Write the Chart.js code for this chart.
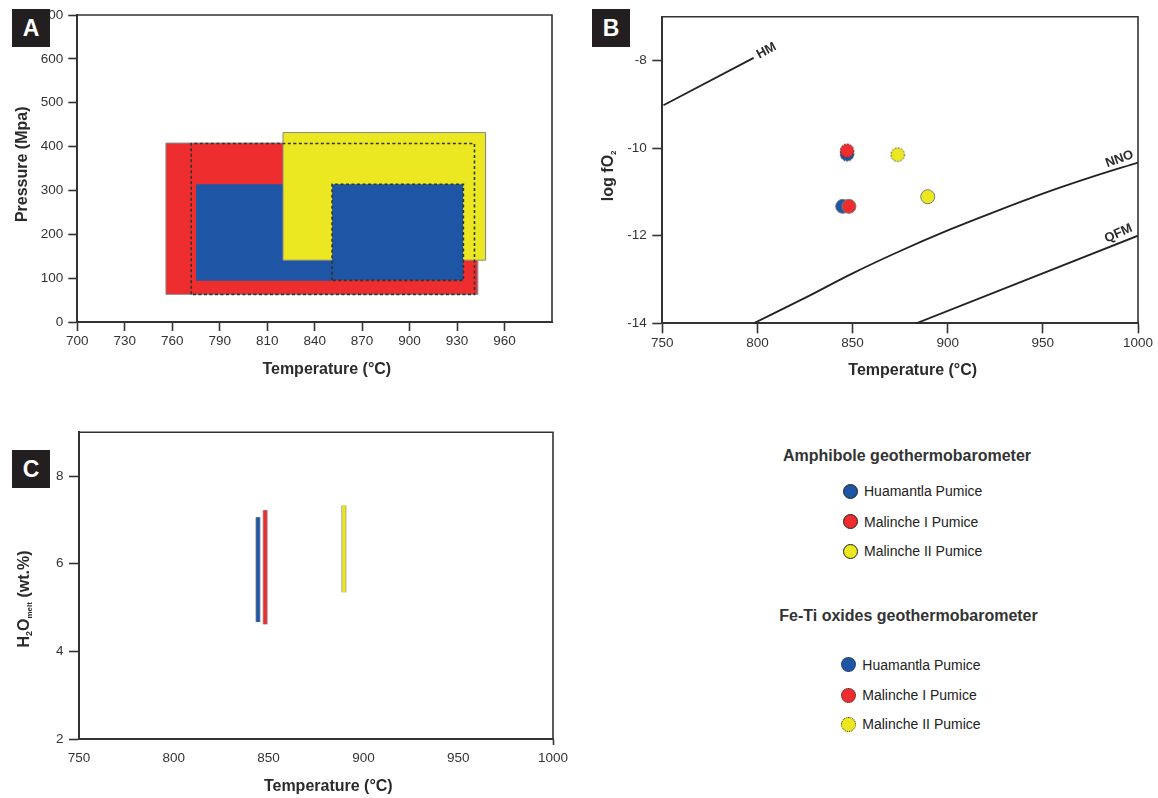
<!DOCTYPE html>
<html><head><meta charset="utf-8">
<script src="https://cdn.jsdelivr.net/npm/chart.js@4.4.1/dist/chart.umd.min.js"></script>
<style>
html,body{margin:0;padding:0;background:#fff;}
body{width:1158px;height:798px;position:relative;overflow:hidden;font-family:"Liberation Sans",Arial,Helvetica,sans-serif;}
canvas{position:absolute;}
.tag{position:absolute;background:#231f20;color:#fff;font-weight:bold;font-size:23px;display:flex;align-items:center;justify-content:center;width:38px;height:38px;}
.lh{position:absolute;font-weight:bold;font-size:16px;line-height:20px;color:#333;white-space:nowrap;}
.li{position:absolute;display:flex;align-items:center;height:20px;font-size:14px;color:#222;white-space:nowrap;}
.dot{display:inline-block;width:15px;height:15px;border-radius:50%;box-sizing:border-box;margin-right:6.5px;}
</style></head><body>
<canvas id="cA" width="580" height="400" style="left:0;top:0"></canvas>
<canvas id="cB" width="578" height="400" style="left:580px;top:0"></canvas>
<canvas id="cC" width="580" height="388" style="left:0;top:410px"></canvas>
<div class="tag" style="left:12px;top:9px">A</div>
<div class="tag" style="left:592px;top:9px">B</div>
<div class="tag" style="left:12px;top:450px">C</div>
<div id="legend"></div>
<script>
// ---------- shared ----------
const sampleNames = ['Huamantla Pumice', 'Malinche I Pumice', 'Malinche II Pumice'];
const sampleColors = ['#1E55A4', '#ED2D2E', '#EBE821'];

// ---------- Panel A : P-T boxes ----------
const tempTickValuesA = [700, 730, 760, 790, 820, 850, 880, 910, 940, 970];
const tempTickLabelsA = ['700', '730', '760', '790', '810', '840', '870', '900', '930', '960'];
const pressureTicksA = [0, 100, 200, 300, 400, 500, 600, 700];
// [Tmin, Tmax, Pmin, Pmax]
const malincheIAmphA = [756, 953, 63, 408];
const huamantlaAmphA = [775, 861, 94, 314];
const malincheIIAmphA = [830, 958, 141, 432];
const huamantlaFeTiA = [861, 944, 95, 314];
const malincheIFeTiA = [772, 951, 63, 407];

// ---------- Panel B : log fO2 ----------
const tempTicksB = [750, 800, 850, 900, 950, 1000];
const logfo2TicksB = [-14, -12, -10, -8];
const hmTemp = [750.6, 798];
const hmLog = [-9.02, -7.94];
const nnoTemp = [798, 825, 850, 875, 900, 925, 950, 975, 1000];
const nnoLog = [-14, -13.42, -12.86, -12.35, -11.88, -11.45, -11.04, -10.67, -10.33];
const qfmTemp = [883.5, 1000];
const qfmLog = [-14, -12.0];
const amphTempB = [844.8, 848.1, 889.5];
const amphLogB = [-11.33, -11.33, -11.11];
const fetiTempB = [847.1, 847.1, 873.7];
const fetiLogB = [-10.14, -10.06, -10.15];
const bufferLabels = ['HM', 'NNO', 'QFM'];
const bufferLabelTemp = [804.7, 990.3, 989.7];
const bufferLabelLog = [-7.78, -10.25, -11.95];
const bufferLabelAngle = [-28, -20, -24];

// ---------- Panel C : H2O melt ----------
const tempTicksC = [750, 800, 850, 900, 950, 1000];
const h2oTicksC = [2, 4, 6, 8];
const h2oTempC = [844.4, 848.2, 889.7];
const h2oMinC = [4.67, 4.62, 5.35];
const h2oMaxC = [7.06, 7.22, 7.33];

// ---------- helpers ----------
const FONT = '"Liberation Sans", Arial, Helvetica, sans-serif';
Chart.defaults.font.family = FONT;
Chart.defaults.color = '#333';
const AX = '#333';
const plainLabel = v => String(v);

const framePlugin = {
  id: 'frame',
  afterDraw(chart) {
    const {ctx, chartArea: a} = chart;
    ctx.save();
    ctx.strokeStyle = AX; ctx.lineWidth = 1.6;
    ctx.beginPath();
    ctx.moveTo(a.left, a.top); ctx.lineTo(a.right, a.top); ctx.lineTo(a.right, a.bottom);
    ctx.stroke();
    ctx.restore();
  }
};

function drawRich(ctx, segs, cx, cy, rot) {
  ctx.save();
  ctx.translate(cx, cy);
  ctx.rotate(rot);
  ctx.fillStyle = '#2b2b2b';
  ctx.textBaseline = 'middle';
  ctx.textAlign = 'left';
  let w = 0;
  segs.forEach(s => { ctx.font = 'bold ' + s.size + 'px ' + FONT; s.w = ctx.measureText(s.t).width; w += s.w; });
  let x = -w / 2;
  segs.forEach(s => { ctx.font = 'bold ' + s.size + 'px ' + FONT; ctx.fillText(s.t, x, s.dy || 0); x += s.w; });
  ctx.restore();
}
function titlesPlugin(items) {
  return { id: 'titles', afterDraw(chart) { items.forEach(it => drawRich(chart.ctx, it.segs, it.x, it.y, it.rot || 0)); } };
}
function setTicks(arr) { return s => { s.ticks = arr.map(v => ({value: v})); }; }
function baseAxis(extra) {
  return Object.assign({
    type: 'linear',
    grid: {drawOnChartArea: false, drawTicks: true, tickLength: 9, tickWidth: 1.6, tickColor: AX, color: AX},
    border: {display: true, color: AX, width: 2},
    ticks: {font: {size: 13.5}, color: '#333', autoSkip: false, maxRotation: 0}
  }, extra);
}
const commonOpts = {
  responsive: false, animation: false, events: [],
  plugins: {legend: {display: false}, tooltip: {enabled: false}, filler: {drawTime: 'beforeDatasetDraw'}},
  elements: {point: {radius: 0}, line: {tension: 0}}
};
function rectFill(r, color, order) {
  return {data: [{x: r[0], y: r[3]}, {x: r[1], y: r[3]}], fill: {value: r[2]}, backgroundColor: color,
          borderColor: 'rgba(0,0,0,0)', borderWidth: 0, pointRadius: 0, order};
}
function rectOutline(r, color, width, dash, order) {
  return {data: [{x: r[0], y: r[2]}, {x: r[0], y: r[3]}, {x: r[1], y: r[3]}, {x: r[1], y: r[2]}, {x: r[0], y: r[2]}],
          fill: false, borderColor: color, borderWidth: width, borderDash: dash, pointRadius: 0, order};
}

// ---------- Chart A ----------
new Chart(document.getElementById('cA'), {
  type: 'line',
  data: {datasets: [
    rectFill(malincheIAmphA, sampleColors[1], 10),
    rectOutline(malincheIAmphA, '#8a8a8a', 1, [], 9),
    rectFill(huamantlaAmphA, sampleColors[0], 8),
    rectFill(malincheIIAmphA, sampleColors[2], 7),
    rectOutline(malincheIIAmphA, '#8a8a8a', 1, [], 6),
    rectFill(huamantlaFeTiA, sampleColors[0], 5),
    rectOutline(huamantlaFeTiA, '#333', 1.6, [3, 2.5], 4),
    rectOutline(malincheIFeTiA, '#333', 1.6, [3, 2.5], 3)
  ]},
  options: Object.assign({}, commonOpts, {
    layout: {padding: {left: 0, top: 15, right: 28, bottom: 0}},
    scales: {
      x: baseAxis({min: 700, max: 1000, position: 'bottom',
        afterFit: s => { s.height = 78; },
        afterBuildTicks: setTicks(tempTickValuesA),
        ticks: {font: {size: 13.5}, color: '#333', autoSkip: false, maxRotation: 0, padding: 2,
                callback: (v, i) => tempTickLabelsA[i]}}),
      y: baseAxis({min: 0, max: 700, position: 'left',
        afterFit: s => { s.width = 77.3; },
        afterBuildTicks: setTicks(pressureTicksA),
        ticks: {font: {size: 13.5}, color: '#333', autoSkip: false, padding: 5, callback: plainLabel}})
    }
  }),
  plugins: [framePlugin, titlesPlugin([
    {segs: [{t: 'Temperature (°C)', size: 16}], x: 326.8, y: 370},
    {segs: [{t: 'Pressure (Mpa)', size: 16}], x: 22.7, y: 164.3, rot: -Math.PI / 2}
  ])]
});

// ---------- Chart B ----------
function dashedDot(color, r) {
  const c = document.createElement('canvas');
  const s = Math.ceil(2 * r + 4);
  c.width = s; c.height = s;
  const g = c.getContext('2d');
  g.beginPath(); g.arc(s / 2, s / 2, r, 0, Math.PI * 2);
  g.fillStyle = color; g.fill();
  g.setLineDash([1.6, 1.6]); g.lineWidth = 1; g.strokeStyle = '#333'; g.stroke();
  return c;
}
const zip = (xs, ys) => xs.map((x, i) => ({x, y: ys[i]}));
const bDatasets = [
  {data: zip(hmTemp, hmLog), borderColor: '#222', borderWidth: 1.8, fill: false, pointRadius: 0, order: 20},
  {data: zip(nnoTemp, nnoLog), borderColor: '#222', borderWidth: 1.8, fill: false, pointRadius: 0, cubicInterpolationMode: 'monotone', order: 20},
  {data: zip(qfmTemp, qfmLog), borderColor: '#222', borderWidth: 1.8, fill: false, pointRadius: 0, order: 20}
];
const pointOrder = [6, 4, 2];
for (let i = 0; i < 3; i++) {
  bDatasets.push({data: [{x: amphTempB[i], y: amphLogB[i]}], showLine: false, pointRadius: 7,
    pointBackgroundColor: sampleColors[i], pointBorderColor: '#7a7a7a', pointBorderWidth: 1, order: pointOrder[i]});
  bDatasets.push({data: [{x: fetiTempB[i], y: fetiLogB[i]}], showLine: false, pointRadius: 7,
    pointStyle: dashedDot(sampleColors[i], 6.8), order: pointOrder[i] + 1 - (i === 1 ? 2 : 0)});
}
const bufferLabelPlugin = {
  id: 'bufferLabels',
  afterDatasetsDraw(chart) {
    const {ctx, scales} = chart;
    ctx.save();
    ctx.fillStyle = '#2b2b2b';
    ctx.font = 'bold 13px ' + FONT;
    ctx.textAlign = 'center'; ctx.textBaseline = 'middle';
    bufferLabels.forEach((t, i) => {
      ctx.save();
      ctx.translate(scales.x.getPixelForValue(bufferLabelTemp[i]), scales.y.getPixelForValue(bufferLabelLog[i]));
      ctx.rotate(bufferLabelAngle[i] * Math.PI / 180);
      ctx.fillText(t, 0, 0);
      ctx.restore();
    });
    ctx.restore();
  }
};
new Chart(document.getElementById('cB'), {
  type: 'line',
  data: {datasets: bDatasets},
  options: Object.assign({}, commonOpts, {
    layout: {padding: {left: 0, top: 16.7, right: 20, bottom: 0}},
    scales: {
      x: baseAxis({min: 750, max: 1000, position: 'bottom',
        afterFit: s => { s.height = 76.7; },
        afterBuildTicks: setTicks(tempTicksB),
        grid: {drawOnChartArea: false, tickLength: 10, tickWidth: 1.6, tickColor: AX, color: AX},
        ticks: {font: {size: 13.5}, color: '#333', autoSkip: false, maxRotation: 0, padding: 1.5, callback: plainLabel}}),
      y: baseAxis({min: -14, max: -7, position: 'left',
        afterFit: s => { s.width = 82.3; },
        afterBuildTicks: setTicks(logfo2TicksB),
        grid: {drawOnChartArea: false, tickLength: 10, tickWidth: 1.6, tickColor: AX, color: AX},
        ticks: {font: {size: 13.5}, color: '#333', autoSkip: false, padding: 5.5, callback: plainLabel}})
    }
  }),
  plugins: [framePlugin, bufferLabelPlugin, titlesPlugin([
    {segs: [{t: 'Temperature (°C)', size: 16}], x: 332.7, y: 370.7},
    {segs: [{t: 'log fO', size: 16}, {t: '2', size: 8, dy: 5}], x: 28.3, y: 175.8, rot: -Math.PI / 2}
  ])]
});

// ---------- Chart C ----------
const cDatasets = [];
for (let i = 0; i < 3; i++) {
  const pts = [{x: h2oTempC[i], y: h2oMinC[i]}, {x: h2oTempC[i], y: h2oMaxC[i]}];
  cDatasets.push({data: pts, borderColor: '#9a9a9a', borderWidth: 5, fill: false, pointRadius: 0, order: 10 + i});
  cDatasets.push({data: pts, borderColor: sampleColors[i], borderWidth: 3.4, fill: false, pointRadius: 0, order: i});
}
new Chart(document.getElementById('cC'), {
  type: 'line',
  data: {datasets: cDatasets},
  options: Object.assign({}, commonOpts, {
    layout: {padding: {left: 0, top: 22.3, right: 27, bottom: 0}},
    scales: {
      x: baseAxis({min: 750, max: 1000, position: 'bottom',
        afterFit: s => { s.height = 59; },
        afterBuildTicks: setTicks(tempTicksC),
        grid: {drawOnChartArea: false, tickLength: 6, tickWidth: 1.6, color: AX,
               tickColor: ctx => (ctx.tick && ctx.tick.value === 1000) ? AX : 'rgba(0,0,0,0)'},
        ticks: {font: {size: 13.5}, color: '#333', autoSkip: false, maxRotation: 0, padding: 5.5, callback: plainLabel}}),
      y: baseAxis({min: 2, max: 9, position: 'left',
        afterFit: s => { s.width = 79; },
        afterBuildTicks: setTicks(h2oTicksC),
        grid: {drawOnChartArea: false, tickLength: 10, tickWidth: 1.6, tickColor: AX, color: AX},
        ticks: {font: {size: 13.5}, color: '#333', autoSkip: false, padding: 5.5, callback: plainLabel}})
    }
  }),
  plugins: [framePlugin, titlesPlugin([
    {segs: [{t: 'Temperature (°C)', size: 16}], x: 328.3, y: 376.7},
    {segs: [{t: 'H', size: 16}, {t: '2', size: 9, dy: 5}, {t: 'O', size: 16}, {t: 'melt', size: 8, dy: 5}, {t: ' (wt.%)', size: 16}],
     x: 25, y: 189, rot: -Math.PI / 2}
  ])]
});

// ---------- Legend (HTML) ----------
const legendGroups = [
  {title: 'Amphibole geothermobarometer', titleX: 783, titleY: 456, dotX: 842.5, rows: [491.3, 521.7, 551], dashed: false},
  {title: 'Fe-Ti oxides geothermobarometer', titleX: 779.3, titleY: 616, dotX: 840.8, rows: [664.7, 695, 724], dashed: true}
];
const lg = document.getElementById('legend');
legendGroups.forEach(g => {
  const h = document.createElement('div');
  h.className = 'lh'; h.textContent = g.title;
  h.style.left = g.titleX + 'px'; h.style.top = (g.titleY - 10) + 'px';
  lg.appendChild(h);
  sampleNames.forEach((n, i) => {
    const row = document.createElement('div');
    row.className = 'li';
    row.style.left = g.dotX + 'px'; row.style.top = (g.rows[i] - 10) + 'px';
    const d = document.createElement('span');
    d.className = 'dot';
    d.style.background = sampleColors[i];
    d.style.border = g.dashed ? '1.5px dotted #333' : '1.3px solid #222';
    row.appendChild(d);
    row.appendChild(document.createTextNode(n));
    lg.appendChild(row);
  });
});
</script>
</body></html>
